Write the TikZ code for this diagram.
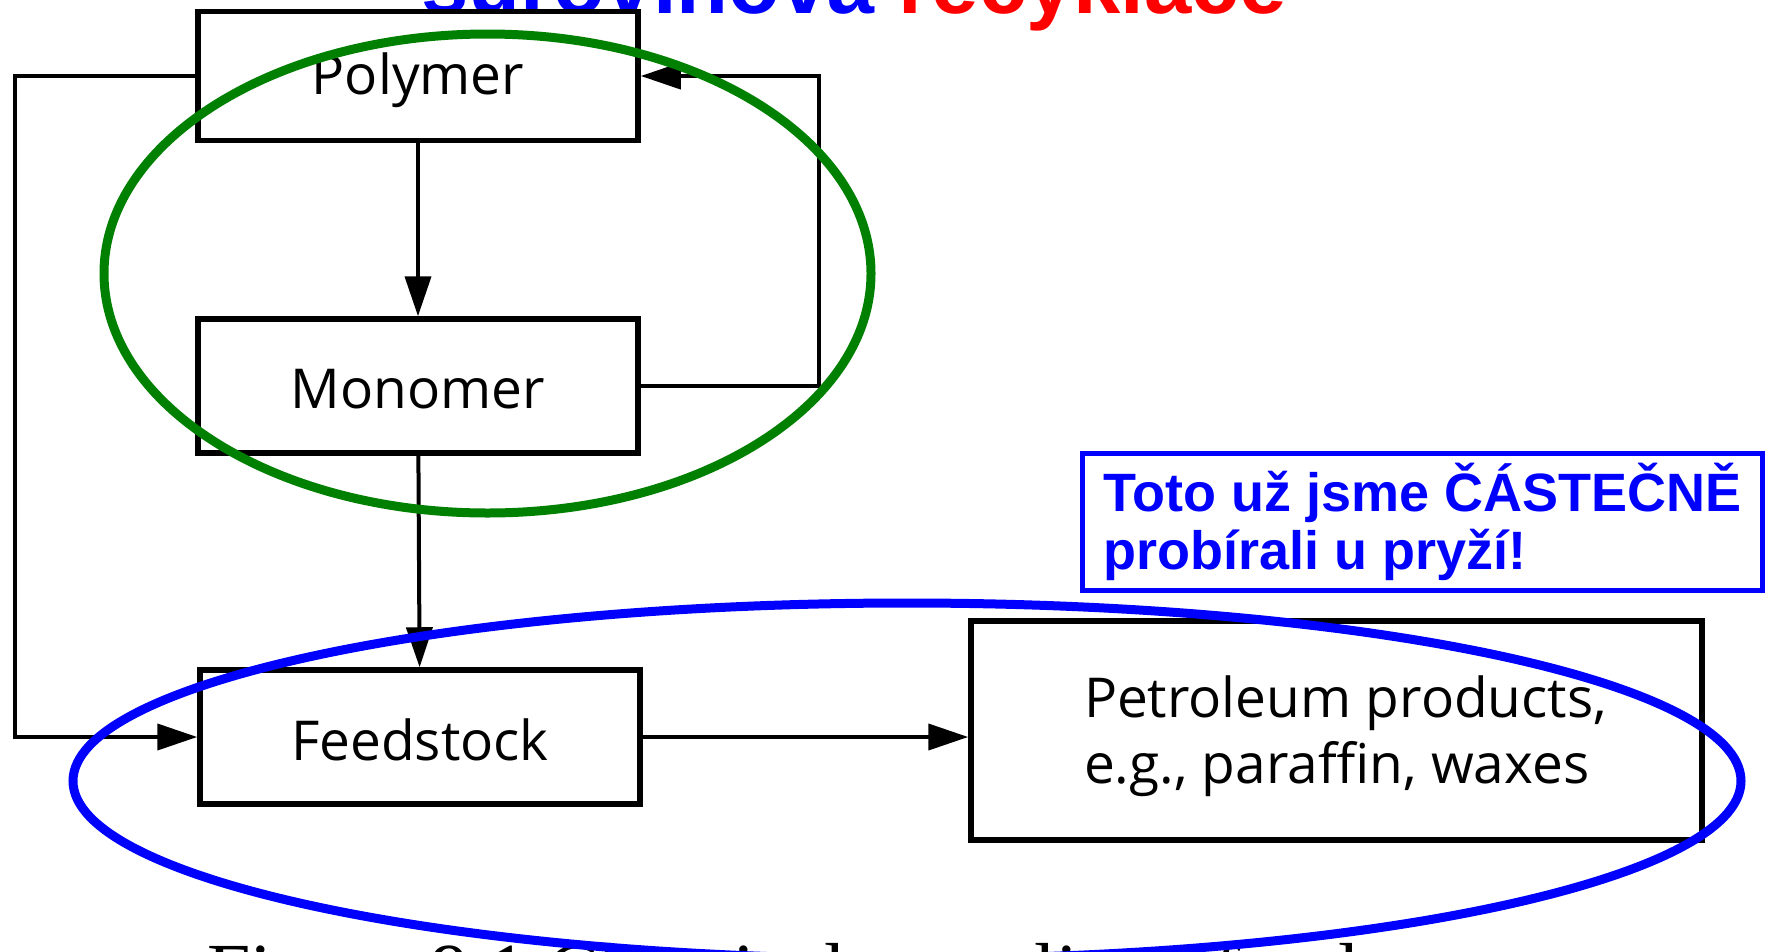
\documentclass[tikz,border=0pt]{standalone}
\usepackage{fontspec}
\setmainfont{Open Sans}
\newfontfamily\arialfont{Liberation Sans}
\newfontfamily\seriffont{Liberation Serif}
\usetikzlibrary{arrows.meta}
\definecolor{ggreen}{RGB}{0,128,0}
\definecolor{bblue}{RGB}{0,0,255}
\definecolor{rred}{RGB}{255,0,0}
\tikzset{
  box/.style={draw=black, line width=5.5pt, minimum width=440pt, inner sep=0pt,
    font=\fontsize{55}{66}\selectfont},
  arr/.style={draw=black, line width=4pt, -{Triangle[length=40pt,width=26pt]}},
  ring/.style={line width=9pt},
}
\begin{document}
\begin{tikzpicture}[x=1pt,y=-1pt]
\useasboundingbox (0,0) rectangle (1767,951);
\fill[white] (0,0) rectangle (1767,951);
\clip (0,0) rectangle (1767,951);
% title (cut off at the top)
\node[anchor=base, inner sep=0pt, font=\arialfont\bfseries\fontsize{85}{100}\selectfont] (title) at (854,13)
  {\textcolor{bblue}{surovinová} \textcolor{rred}{recyklace}};
% caption (cut off at the bottom)
\node[anchor=base west, inner sep=0pt, font=\seriffont\fontsize{78}{90}\selectfont] (caption) at (207,997)
  {Figure 9.1 Chemical recycling of polymers};
% boxes
\node[box, minimum height=129pt] (poly) at (418,76) {\raisebox{-18.5pt}[0pt][0pt]{Polymer}};
\node[box, minimum height=134pt] (mono) at (418,386) {\raisebox{-22.5pt}[0pt][0pt]{Monomer}};
\node[box, minimum height=134pt] (feed) at (420,737) {\raisebox{-23.5pt}[0pt][0pt]{Feedstock}};
\node[box, minimum width=731pt, minimum height=219pt] (petro) at (1336.5,730.5)
  {\hspace{18pt}\raisebox{13.5pt}[0pt][0pt]{\begin{tabular}[t]{@{}l@{}}Petroleum products,\\e.g., paraffin, waxes\end{tabular}}};
% connectors
\coordinate (rloop) at (819,386);
\coordinate (lloop) at (15,76);
\draw[arr] (poly) -- (mono);
\draw[arr] (mono) -- (feed);
\draw[arr] (feed.east) -- (petro.west |- feed.east);
\draw[arr] (mono.east) -- (rloop) |- (poly.east);
\draw[arr] (poly.west) -- (lloop) |- (feed.west);
% annotations
\draw[ring, ggreen] (487.5,273.5) ellipse [x radius=383.5, y radius=239.5];
\draw[ring, bblue] (907,781) ellipse [x radius=834, y radius=178];
\node[draw=bblue, line width=5pt, fill=white, minimum width=680pt, minimum height=137pt,
  anchor=north west, align=left, text=bblue,
  font=\arialfont\bfseries\fontsize{54}{58}\selectfont] (note) at (1080,451)
  {Toto už jsme ČÁSTEČNĚ\\probírali u pryží!};
\end{tikzpicture}
\end{document}
